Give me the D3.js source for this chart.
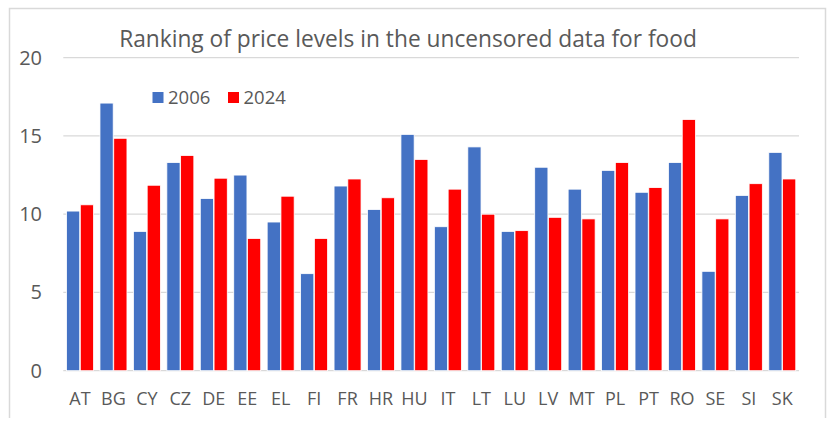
<!DOCTYPE html>
<html>
<head>
<meta charset="utf-8">
<script src="https://cdn.jsdelivr.net/npm/d3@7"></script>
<style>
  body { margin: 0; background: #fff; }
  text { font-family: "Open Sans", "Liberation Sans", sans-serif; fill: #595959; }
</style>
</head>
<body>
<svg id="chart" width="836" height="431"></svg>
<script>
// countries and the two rankings
const countries = ["AT", "BG", "CY", "CZ", "DE", "EE", "EL", "FI", "FR", "HR", "HU",
  "IT", "LT", "LU", "LV", "MT", "PL", "PT", "RO", "SE", "SI", "SK"];
const years = ["2006", "2024"];
const rank2006 = [10.2, 17.1, 8.9, 13.3, 11.0, 12.5, 9.5, 6.2, 11.8, 10.3, 15.1,
  9.2, 14.3, 8.9, 13.0, 11.6, 12.8, 11.4, 13.3, 6.35, 11.2, 13.95];
const rank2024 = [10.6, 14.85, 11.85, 13.75, 12.3, 8.45, 11.15, 8.45, 12.25, 11.05, 13.5,
  11.6, 10.0, 8.95, 9.8, 9.7, 13.3, 11.7, 16.05, 9.7, 11.95, 12.25];
const yTicks = [0, 5, 10, 15, 20];
const colors = { "2006": "#4472C4", "2024": "#FF0000" };

const svg = d3.select("#chart");
const margin = { left: 63.3, right: 799, top: 57.7, bottom: 370.7 };

// outer frame (top, left, right)
svg.append("path")
  .attr("d", "M9.5,418 V8.5 H825.5 V418")
  .attr("fill", "none")
  .attr("stroke", "#d9d9d9")
  .attr("stroke-width", 1.5);

const x = d3.scaleBand()
  .domain(countries)
  .range([margin.left, margin.right])
  .paddingInner(0.16)
  .paddingOuter(0.08);

const xInner = d3.scaleBand()
  .domain(years)
  .range([0, x.bandwidth()])
  .padding(0.04);

const y = d3.scaleLinear()
  .domain([0, 20])
  .range([margin.bottom, margin.top]);

// gridlines
svg.append("g")
  .selectAll("line")
  .data(yTicks)
  .join("line")
  .attr("x1", margin.left)
  .attr("x2", margin.right)
  .attr("y1", (d) => y(d))
  .attr("y2", (d) => y(d))
  .attr("stroke", "#d9d9d9")
  .attr("stroke-width", 1.3);

// y axis labels
svg.append("g")
  .selectAll("text")
  .data(yTicks)
  .join("text")
  .attr("x", 42)
  .attr("y", (d) => y(d))
  .attr("dy", "0.35em")
  .attr("text-anchor", "end")
  .style("font-size", "20px")
  .text((d) => d);

// bars
const series = { "2006": rank2006, "2024": rank2024 };
const groups = svg.append("g")
  .selectAll("g")
  .data(countries)
  .join("g")
  .attr("transform", (d) => `translate(${x(d)},0)`);

groups.selectAll("rect")
  .data((c, i) => years.map((yr) => ({ yr, v: series[yr][i] })))
  .join("rect")
  .attr("x", (d) => xInner(d.yr))
  .attr("width", xInner.bandwidth())
  .attr("y", (d) => y(d.v))
  .attr("height", (d) => y(0) - y(d.v))
  .attr("fill", (d) => colors[d.yr])
  .attr("stroke", "#fff")
  .attr("stroke-width", 0.8);

// x axis labels
svg.append("g")
  .selectAll("text")
  .data(countries)
  .join("text")
  .attr("x", (d) => x(d) + x.bandwidth() / 2)
  .attr("y", 405)
  .attr("text-anchor", "middle")
  .style("font-size", "18px")
  .text((d) => d);

// title
const title = svg.append("text")
  .attr("x", 408)
  .attr("y", 46.5)
  .attr("text-anchor", "middle")
  .style("font-size", "22px")
  .text("Ranking of price levels in the uncensored data for food");
const tw = title.node().getComputedTextLength();
title.style("font-size", (22 * 578 / tw).toFixed(2) + "px");

// legend
const legendItems = [
  { yr: "2006", sx: 152.5, tx: 168 },
  { yr: "2024", sx: 228, tx: 243.5 }
];
const legend = svg.append("g");
legend.selectAll("rect")
  .data(legendItems)
  .join("rect")
  .attr("x", (d) => d.sx)
  .attr("y", 92)
  .attr("width", 11)
  .attr("height", 11)
  .attr("fill", (d) => colors[d.yr]);
legend.selectAll("text")
  .data(legendItems)
  .join("text")
  .attr("x", (d) => d.tx)
  .attr("y", 103.5)
  .style("font-size", "18.5px")
  .text((d) => d.yr);
</script>
</body>
</html>
